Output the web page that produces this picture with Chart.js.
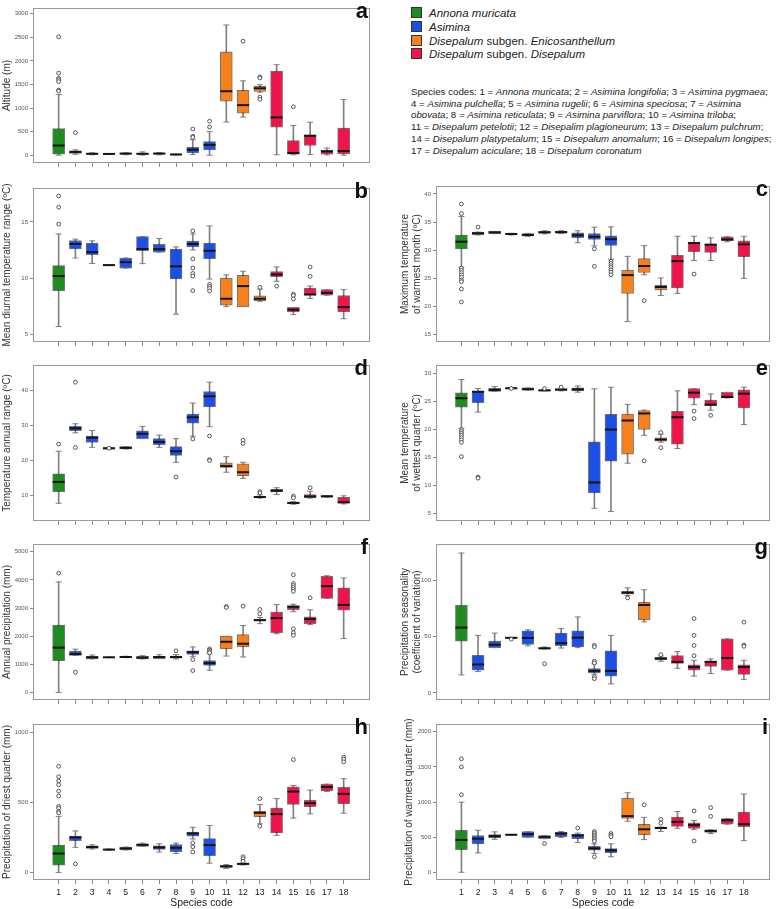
<!DOCTYPE html>
<html>
<head>
<meta charset="utf-8">
<script src="https://cdn.jsdelivr.net/npm/chart.js@4.4.1/dist/chart.umd.min.js"></script>
<style>
  body { margin: 0; background: #fff; width: 778px; height: 909px; position: relative; overflow: hidden;
         font-family: 'Liberation Sans', Arial, sans-serif; }
  canvas { position: absolute; }
  .tag { position: absolute; width: 30px; text-align: right; font: bold 22px 'Liberation Sans', Arial, sans-serif;
         line-height: 22px; color: #111; }
  #legend { position: absolute; left: 411px; top: 7px; font-size: 11.5px; line-height: 13.8px; color: #222; }
  #legend .sw { display: inline-block; width: 9px; height: 9px; border: 1px solid #333; margin-right: 7px; vertical-align: -1px; }
  #codes { position: absolute; left: 411px; top: 86px; font-size: 9.7px; line-height: 11.7px; color: #222; white-space: nowrap; }
</style>
</head>
<body>

<div id="legend">
  <div><span class="sw" style="background:#1e8c1e"></span><i>Annona muricata</i></div>
  <div><span class="sw" style="background:#1c4fe6"></span><i>Asimina</i></div>
  <div><span class="sw" style="background:#f7801a"></span><i>Disepalum</i> subgen. <i>Enicosanthellum</i></div>
  <div><span class="sw" style="background:#f0144a"></span><i>Disepalum</i> subgen. <i>Disepalum</i></div>
</div>

<div id="codes">
  Species codes: 1 = <i>Annona muricata</i>; 2 = <i>Asimina longifolia</i>; 3 = <i>Asimina pygmaea</i>;<br>
  4 = <i>Asimina pulchella</i>; 5 = <i>Asimina rugelii</i>; 6 = <i>Asimina speciosa</i>; 7 = <i>Asimina</i><br>
  <i>obovata</i>; 8 = <i>Asimina reticulata</i>; 9 = <i>Asimina parviflora</i>; 10 = <i>Asimina triloba</i>;<br>
  11 = <i>Disepalum petelotii</i>; 12 = <i>Disepalim plagioneurum</i>; 13 = <i>Disepalum pulchrum</i>;<br>
  14 = <i>Disepalum platypetalum</i>; 15 = <i>Disepalum anomalum</i>; 16 = <i>Disepalum longipes</i>;<br>
  17 = <i>Disepalum aciculare</i>; 18 = <i>Disepalum coronatum</i>
</div>

<script>
// species codes and their group (0 Annona, 1 Asimina, 2 Enicosanthellum, 3 Disepalum)
const species = [1, 2, 3, 4, 5, 6, 7, 8, 9, 10, 11, 12, 13, 14, 15, 16, 17, 18]
const groupOf = [0, 1, 1, 1, 1, 1, 1, 1, 1, 1, 2, 2, 2, 3, 3, 3, 3, 3]
const groupColors = ['#1e8c1e', '#1c4fe6', '#f7801a', '#f0144a']

// a - altitude (m)
const altLo  = [0, 20, 10, 20, 10, 5, 10, 5, 14, 0, 705, 808, 1336, 10, 10, 14, 7, 0]
const altQ1  = [20, 40, 20, 22, 20, 15, 20, 10, 48, 110, 1144, 890, 1350, 596, 20, 205, 20, 27]
const altMed = [205, 70, 30, 27, 35, 30, 35, 15, 116, 219, 1356, 1062, 1418, 801, 48, 411, 82, 89]
const altQ3  = [562, 95, 40, 30, 40, 40, 45, 20, 171, 288, 2192, 1377, 1459, 1781, 308, 432, 103, 575]
const altHi  = [1288, 115, 50, 32, 50, 70, 55, 25, 330, 500, 2760, 1576, 1493, 1918, 630, 699, 150, 1178]
const altOut = [[2510, 1740, 1630, 1600, 1560, 1380, 1360], [480], [], [], [], [], [], [], [555, 400, 380], [720, 596],
                [], [2418], [1658, 1637, 1233, 1185], [], [1027], [], [], []]
const altTicks = [0, 500, 1000, 1500, 2000, 2500, 3000]

// b - mean diurnal temperature range
const mdrLo  = [5.73, 11.8, 11.32, 11.15, 10.9, 11.3, 12.32, 6.82, 12.52, 9.94, 7.5, 7.5, 7.97, 9.74, 6.79, 8.22, 8.51, 6.42]
const mdrQ1  = [8.91, 12.6, 12.09, 11.15, 10.9, 12.44, 12.32, 9.94, 12.78, 11.75, 7.62, 7.5, 8.02, 10.14, 7.02, 8.51, 8.51, 7.02]
const mdrMed = [10.2, 13.04, 12.32, 11.17, 11.43, 12.6, 12.58, 11.06, 13.04, 12.44, 8.19, 9.31, 8.19, 10.34, 7.22, 8.57, 8.71, 7.45]
const mdrQ3  = [11.12, 13.35, 13.12, 11.2, 11.8, 13.7, 13.0, 12.6, 13.3, 13.12, 10.03, 10.26, 8.45, 10.6, 7.42, 9.14, 9.0, 8.48]
const mdrHi  = [13.93, 13.47, 13.32, 11.2, 11.8, 13.7, 13.52, 12.78, 13.93, 14.64, 10.3, 10.63, 9.05, 11.0, 7.42, 9.31, 9.0, 9.0]
const mdrOut = [[17.3, 16.3, 14.8], [], [], [], [], [], [], [], [14.2, 11.72, 10.92, 10.43, 10.2, 8.91], [9.46, 9.28, 9.11, 8.88],
                [], [], [9.2], [9.31], [8.6, 8.48, 8.17], [10.17, 11.0], [], []]
const mdrTicks = [5, 10, 15]

// c - maximum temperature of warmest month
const tmxLo  = [27.0, 32.7, 32.93, 32.7, 32.45, 32.9, 32.95, 31.32, 30.75, 28.39, 17.3, 25.63, 21.95, 22.3, 28.16, 28.16, 31.5, 25.0]
const tmxQ1  = [30.23, 32.76, 32.93, 32.8, 32.53, 33.0, 33.0, 32.24, 31.9, 30.86, 22.3, 26.03, 22.93, 23.28, 29.71, 29.6, 31.67, 28.85]
const tmxMed = [31.5, 33.0, 33.16, 32.87, 32.7, 33.16, 33.2, 32.64, 32.36, 31.95, 25.57, 27.18, 23.45, 28.05, 31.26, 30.98, 31.9, 31.03]
const tmxQ3  = [32.7, 33.2, 33.33, 32.95, 32.93, 33.33, 33.4, 33.1, 32.93, 32.53, 26.44, 28.5, 23.8, 29.08, 31.44, 31.03, 32.36, 31.67]
const tmxHi  = [35.98, 33.2, 33.33, 33.0, 32.98, 33.45, 33.45, 33.45, 34.08, 34.14, 28.9, 30.8, 25.06, 32.47, 32.47, 32.18, 32.4, 32.47]
const tmxOut = [[38.2, 36.5, 26.8, 26.4, 26.0, 25.6, 25.2, 24.7, 24.4, 23.1, 20.8], [34.1], [], [], [], [], [], [], [30.23, 27.13],
                [28.05, 27.64, 27.24, 26.9, 26.5, 26.1, 25.63], [], [21.03], [], [], [25.75], [], [], []]
const tmxTicks = [15, 20, 25, 30, 35, 40]

// d - temperature annual range
const tarLo  = [7.83, 27.88, 23.74, 23.28, 23.28, 26.23, 23.74, 19.5, 26.96, 29.63, 16.66, 14.91, 9.3, 10.3, 7.55, 9.3, 9.57, 7.64]
const tarQ1  = [11.14, 28.53, 25.12, 23.28, 23.28, 26.23, 24.48, 21.44, 30.64, 35.24, 18.04, 15.65, 9.39, 11.05, 7.64, 9.39, 9.57, 7.83]
const tarMed = [13.9, 29.17, 26.5, 23.47, 23.6, 27.6, 25.3, 22.64, 32.3, 38.28, 18.4, 16.66, 9.6, 11.4, 7.92, 9.76, 9.8, 8.1]
const tarQ3  = [16.2, 29.72, 26.96, 23.65, 23.93, 28.44, 26.23, 23.93, 33.2, 39.66, 19.33, 19.05, 9.76, 11.78, 8.1, 10.31, 10.03, 9.48]
const tarHi  = [22.64, 30.46, 28.53, 23.65, 23.93, 29.72, 27.24, 26.23, 36.35, 42.3, 21.08, 19.5, 10.2, 12.24, 8.25, 11.23, 10.03, 9.94]
const tarOut = [[24.66], [42.3, 23.7], [], [23.5], [], [], [], [15.28], [26.14], [26.96, 20.25, 19.97],
                [], [25.77, 24.85], [11.14, 10.77], [], [9.85, 9.39], [12.24], [], []]
const tarTicks = [10, 20, 30, 40]

// e - mean temperature of wettest quarter
const twqLo  = [20.16, 23.04, 26.73, 27.25, 26.96, 26.84, 26.84, 26.6, 5.86, 5.29, 13.93, 18.9, 17.68, 16.53, 24.37, 23.39, 25.58, 20.82]
const twqQ1  = [23.9, 24.71, 26.73, 27.25, 26.96, 26.84, 26.9, 26.84, 8.63, 14.28, 15.55, 19.93, 17.85, 17.33, 25.52, 24.19, 25.58, 23.79]
const twqMed = [25.52, 26.67, 27.0, 27.3, 27.13, 26.92, 27.05, 27.1, 10.48, 19.93, 21.54, 22.8, 18.14, 22.12, 26.5, 24.37, 25.75, 26.33]
const twqQ3  = [26.5, 26.79, 27.3, 27.36, 27.36, 27.0, 27.25, 27.36, 17.74, 22.64, 22.7, 23.33, 18.43, 23.16, 27.25, 25.17, 26.56, 27.0]
const twqHi  = [28.86, 27.25, 27.6, 27.36, 27.36, 27.0, 27.25, 27.7, 27.19, 27.48, 24.42, 23.4, 19.1, 26.84, 27.25, 26.27, 26.56, 27.48]
const twqOut = [[19.93, 19.58, 19.24, 18.9, 18.5, 18.1, 17.62, 15.09], [11.45, 11.25], [], [27.25], [], [27.25], [27.5], [], [], [],
                [], [14.34], [19.4, 16.7], [], [23.21, 21.89], [22.46], [], []]
const twqTicks = [5, 10, 15, 20, 25, 30]

// f - annual precipitation (mm)
const apLo  = [0, 1321, 1195, 1245, 1240, 1195, 1206, 1195, 1287, 793, 1298, 1264, 2447, 2091, 2872, 2413, 3343, 1919]
const apQ1  = [1137, 1321, 1195, 1245, 1245, 1195, 1206, 1218, 1356, 965, 1551, 1620, 2539, 2126, 2941, 2447, 3343, 2930]
const apMed = [1597, 1367, 1252, 1252, 1264, 1241, 1264, 1264, 1436, 1045, 1804, 1735, 2574, 2643, 3045, 2608, 3780, 3114]
const apQ3  = [2401, 1471, 1287, 1260, 1287, 1298, 1287, 1298, 1482, 1137, 1999, 2057, 2608, 2861, 3091, 2689, 4125, 3723]
const apHi  = [3929, 1540, 1333, 1260, 1290, 1310, 1344, 1344, 1620, 1379, 1999, 2378, 2666, 3125, 3137, 2941, 4148, 4067]
const apOut = [[4240], [724], [], [], [], [], [], [1482], [1172, 781], [1551, 1505, 1459, 1413],
               [3056, 3022], [3068], [2953, 2792], [], [4182, 3872, 3803, 3734, 3665, 3596, 2263, 2126, 2034], [3366], [], []]
const apTicks = [0, 1000, 2000, 3000, 4000, 5000]

// g - precipitation seasonality (CV)
const psLo  = [16.0, 18.9, 40.1, 48.4, 41.8, 39.0, 39.8, 40.1, 16.6, 8.0, 86.3, 63.0, 28.1, 21.8, 14.9, 17.2, 20.1, 12.0]
const psQ1  = [45.85, 20.06, 40.1, 48.4, 43.0, 39.0, 41.8, 40.7, 17.8, 14.9, 87.7, 64.8, 29.2, 26.1, 20.1, 23.5, 20.1, 16.3]
const psMed = [57.9, 25.2, 42.7, 48.8, 48.7, 39.5, 44.1, 49.0, 19.5, 19.5, 88.8, 77.9, 30.4, 27.5, 22.9, 27.5, 30.9, 22.9]
const psQ3  = [77.65, 33.2, 45.85, 49.3, 55.0, 40.1, 53.0, 55.0, 21.5, 37.2, 90.0, 80.2, 31.5, 33.0, 24.9, 28.1, 47.9, 24.9]
const psHi  = [124, 51, 53, 49.3, 55.9, 40.7, 57, 67.3, 25.8, 51, 93.1, 91.4, 32.7, 36.7, 28.9, 30.1, 47.9, 28.9]
const psOut = [[], [], [], [47.6], [], [25.8], [], [], [42.2, 40.9, 28.1, 26.6, 14.3, 12.6], [],
               [84.2], [], [33.8], [], [65.9, 51, 42.1, 33], [], [], [62.7, 42.4, 41.3]]
const psTicks = [0, 50, 100]

// h - precipitation of driest quarter (mm)
const pdqLo  = [0, 180, 168, 160, 161, 187, 147, 136, 240, 67, 30, 55, 348, 265, 389, 419, 578, 424]
const pdqQ1  = [53, 228, 173, 162, 161, 187, 166, 150, 260, 120, 37, 55, 399, 283, 486, 470, 583, 491]
const pdqMed = [136, 251, 182, 164, 172, 198, 180, 177, 279, 196, 44, 62, 426, 417, 578, 495, 611, 562]
const pdqQ3  = [196, 260, 191, 166, 182, 205, 191, 200, 288, 242, 51, 67, 438, 461, 611, 516, 631, 608]
const pdqHi  = [401, 297, 198, 168, 182, 210, 205, 210, 323, 336, 58, 67, 486, 528, 622, 588, 631, 670]
const pdqOut = [[758, 684, 654, 627, 581, 546, 472, 459, 435, 426], [62], [], [], [], [], [], [], [212, 184, 147], [],
                [], [113, 99, 81], [528, 332], [], [806], [], [], [823, 809, 790]]
const pdqTicks = [0, 500, 1000]

// i - precipitation of warmest quarter (mm)
const pwqLo  = [0, 276, 469, 530, 497, 478, 497, 423, 267, 221, 727, 465, 580, 626, 607, 552, 685, 451]
const pwqQ1  = [322, 405, 488, 530, 497, 478, 506, 478, 313, 276, 768, 534, 616, 653, 626, 566, 685, 649]
const pwqMed = [460, 478, 515, 534, 543, 506, 552, 524, 340, 313, 800, 612, 630, 718, 672, 589, 741, 685]
const pwqQ3  = [598, 524, 538, 538, 580, 520, 570, 543, 368, 336, 1058, 681, 644, 787, 704, 603, 764, 856]
const pwqHi  = [998, 598, 575, 538, 580, 520, 580, 557, 405, 405, 1132, 782, 644, 865, 736, 603, 764, 1113]
const pwqOut = [[1615, 1500, 1104], [], [], [], [], [409], [], [630], [580, 557, 534, 511, 488, 465, 442, 221], [552, 529, 506],
                [], [961], [754, 699], [], [874, 446], [920, 796], [], []]
const pwqTicks = [0, 500, 1000, 1500, 2000]

const FONT = "'Liberation Sans', Arial, sans-serif"

const framePlugin = {
    id: 'frame',
    beforeDatasetsDraw(chart) {
        const a = chart.chartArea
        const ctx = chart.ctx
        ctx.save()
        ctx.strokeStyle = '#999'
        ctx.lineWidth = 1
        ctx.strokeRect(Math.round(a.left) + 0.5, Math.round(a.top) + 0.5, Math.round(a.width) - 1, Math.round(a.height) - 1)
        ctx.restore()
    }
}

function makePanel(p) {
    const left = p.col === 0 ? 0 : 380
    const width = p.col === 0 ? 378 : 398
    const axisW = p.col === 0 ? 33 : 56
    const xh = p.bottomRow ? 29 : 12

    var canvas = document.createElement('canvas')
    canvas.width = width
    canvas.height = p.bottom - p.top + 3 + xh
    canvas.style.left = left + 'px'
    canvas.style.top = (p.top - 3) + 'px'
    document.body.appendChild(canvas)

    // panel letter
    var tag = document.createElement('div')
    tag.className = 'tag'
    tag.textContent = p.id
    tag.style.left = (p.col === 0 ? 338 : 738) + 'px'
    tag.style.top = (p.top - 3) + 'px'
    document.body.appendChild(tag)

    var fills = species.map((s, i) => groupColors[groupOf[i]])
    var ds = [
        {type: 'bar', data: species.map((s, i) => ({x: s, y: [p.lo[i], p.hi[i]]})),
         backgroundColor: '#808080', borderWidth: 0, barThickness: 1, grouped: false, order: 5},
        {type: 'bar', data: species.map((s, i) => ({x: s, y: [p.q1[i], p.q3[i]]})),
         backgroundColor: fills, borderColor: 'rgba(0,0,0,0.55)', borderWidth: 1, borderSkipped: false,
         barThickness: 12, grouped: false, order: 4},
        {type: 'scatter', data: species.flatMap((s, i) => [{x: s, y: p.lo[i]}, {x: s, y: p.hi[i]}]),
         pointStyle: 'line', pointRadius: 3, pointBorderColor: '#808080', pointBorderWidth: 1, order: 3},
        {type: 'scatter', data: species.map((s, i) => ({x: s, y: p.med[i]})),
         pointStyle: 'line', pointRadius: 6, pointBorderColor: '#151515', pointBorderWidth: 2, order: 2},
        {type: 'scatter', data: species.flatMap((s, i) => p.out[i].map(v => ({x: s, y: v}))),
         pointStyle: 'circle', pointRadius: 1.9, pointBorderColor: '#444', pointBackgroundColor: '#fff',
         pointBorderWidth: 0.9, order: 1}
    ]

    new Chart(canvas, {
        type: 'bar',
        data: {datasets: ds},
        plugins: [framePlugin],
        options: {
            responsive: false,
            animation: false,
            events: [],
            layout: {padding: {top: 3, right: p.col === 0 ? 3 : 1, left: 0, bottom: 0}},
            plugins: {legend: {display: false}, tooltip: {enabled: false}},
            scales: {
                x: {
                    type: 'linear', min: -0.53, max: 19.57, offset: false,
                    afterBuildTicks: (s) => { s.ticks = species.map(v => ({value: v})) },
                    afterFit: (s) => { s.height = xh },
                    grid: {display: true, drawOnChartArea: false, drawTicks: true, tickLength: 4, color: '#8a8a8a', offset: false},
                    border: {display: false},
                    ticks: {display: !!p.bottomRow, font: {size: 8.7, family: FONT}, color: '#222', padding: 3,
                            autoSkip: false, maxRotation: 0, callback: (v) => String(v)},
                    title: {display: !!p.bottomRow, text: 'Species code', font: {size: 10.4, family: FONT},
                            color: '#222', padding: {top: 0, bottom: 0}}
                },
                y: {
                    type: 'linear', min: p.min, max: p.max,
                    afterBuildTicks: (s) => { s.ticks = p.ticks.map(v => ({value: v})) },
                    afterFit: (s) => { s.width = axisW },
                    grid: {drawOnChartArea: false, drawTicks: true, tickLength: 3, color: '#8a8a8a'},
                    border: {display: false},
                    ticks: {font: {size: 6, family: FONT, lineHeight: 1}, color: '#555', padding: 2, callback: (v) => String(v)},
                    title: {display: true, text: p.title, font: {size: 10, family: FONT}, color: '#333',
                            padding: {top: p.titlePad, bottom: 0}}
                }
            }
        }
    })
}

var panels = [
    {id: 'a', col: 0, top: 3, bottom: 163, title: 'Altitude (m)', titlePad: 1.5, min: -165, max: 3120, ticks: altTicks,
     lo: altLo, q1: altQ1, med: altMed, q3: altQ3, hi: altHi, out: altOut},
    {id: 'b', col: 0, top: 183, bottom: 342, title: 'Mean diurnal temperature range (ºC)', titlePad: 1.5, min: 4.36, max: 18.0, ticks: mdrTicks,
     lo: mdrLo, q1: mdrQ1, med: mdrMed, q3: mdrQ3, hi: mdrHi, out: mdrOut},
    {id: 'c', col: 1, top: 181, bottom: 342, title: ['Maximum temperature', 'of warmest month (ºC)'], titlePad: 19, min: 13.68, max: 41.4, ticks: tmxTicks,
     lo: tmxLo, q1: tmxQ1, med: tmxMed, q3: tmxQ3, hi: tmxHi, out: tmxOut},
    {id: 'd', col: 0, top: 360, bottom: 521, title: 'Temperature annual range (ºC)', titlePad: 1.5, min: 2.77, max: 47.2, ticks: tarTicks,
     lo: tarLo, q1: tarQ1, med: tarMed, q3: tarQ3, hi: tarHi, out: tarOut},
    {id: 'e', col: 1, top: 360, bottom: 521, title: ['Mean temperature', 'of wettest quarter (ºC)'], titlePad: 19, min: 3.6, max: 31.45, ticks: twqTicks,
     lo: twqLo, q1: twqQ1, med: twqMed, q3: twqQ3, hi: twqHi, out: twqOut},
    {id: 'f', col: 0, top: 539, bottom: 700, title: 'Annual precipitation (mm)', titlePad: 1.5, min: -264, max: 5276, ticks: apTicks,
     lo: apLo, q1: apQ1, med: apMed, q3: apQ3, hi: apHi, out: apOut},
    {id: 'g', col: 1, top: 539, bottom: 700, title: ['Precipitation seasonality', '(coefficient of variation)'], titlePad: 19, min: -6.3, max: 132, ticks: psTicks,
     lo: psLo, q1: psQ1, med: psMed, q3: psQ3, hi: psHi, out: psOut},
    {id: 'h', col: 0, top: 719, bottom: 880, bottomRow: true, title: 'Precipitation of driest quarter (mm)', titlePad: 1.5, min: -53, max: 1060, ticks: pdqTicks,
     lo: pdqLo, q1: pdqQ1, med: pdqMed, q3: pdqQ3, hi: pdqHi, out: pdqOut},
    {id: 'i', col: 1, top: 719, bottom: 880, bottomRow: true, title: 'Precipitation of warmest quarter (mm)', titlePad: 23.7, min: -110, max: 2111, ticks: pwqTicks,
     lo: pwqLo, q1: pwqQ1, med: pwqMed, q3: pwqQ3, hi: pwqHi, out: pwqOut}
]

panels.forEach(makePanel)
</script>
</body>
</html>
